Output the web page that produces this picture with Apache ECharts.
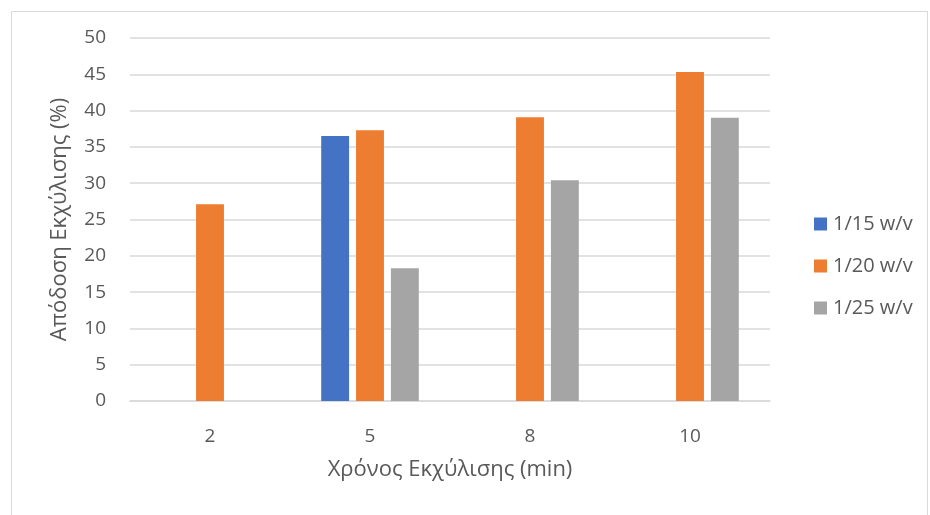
<!DOCTYPE html>
<html>
<head>
<meta charset="utf-8">
<script src="https://cdn.jsdelivr.net/npm/echarts@6/dist/echarts.min.js"></script>
<style>html,body{margin:0;padding:0;background:#fff}#c{width:930px;height:515px}</style>
</head>
<body>
<div id="c"></div>
<script>
const categories = ['2', '5', '8', '10'];
const seriesNames = ['1/15 w/v', '1/20 w/v', '1/25 w/v'];
const s1_15 = [null, 36.5, null, null];
const s1_20 = [27.1, 37.3, 39.1, 45.3];
const s1_25 = [null, 18.3, 30.4, 39.0];
const colors = ['#4472C4', '#ED7D31', '#A5A5A5'];
const font = '"Open Sans", "Noto Sans", sans-serif';

const chart = echarts.init(document.getElementById('c'));
const dataSets = [s1_15, s1_20, s1_25];
chart.setOption({
  animation: false,
  graphic: [{
    type: 'rect', left: 9, top: 9, shape: {width: 916, height: 520},
    style: {fill: 'none', stroke: '#d9d9d9', lineWidth: 1}
  }],
  grid: {left: 130, right: 160, top: 38, bottom: 114},
  legend: {
    orient: 'vertical', left: 809, top: 209, itemGap: 22,
    itemWidth: 13, itemHeight: 13, icon: 'rect',
    textStyle: {fontFamily: font, fontSize: 20, color: '#595959', padding: [0, 0, 0, 1]},
    data: seriesNames
  },
  xAxis: {
    type: 'category', data: categories,
    name: 'Χρόνος Εκχύλισης (min)', nameLocation: 'middle', nameGap: 58,
    nameTextStyle: {fontFamily: font, fontSize: 22, color: '#595959'},
    axisLine: {lineStyle: {color: '#d9d9d9', width: 1.5}},
    axisTick: {show: false},
    axisLabel: {fontFamily: font, fontSize: 19, color: '#595959', margin: 26}
  },
  yAxis: {
    type: 'value', min: 0, max: 50, interval: 5,
    name: 'Απόδοση Εκχύλισης (%)', nameLocation: 'middle', nameGap: 59,
    nameTextStyle: {fontFamily: font, fontSize: 22, color: '#595959'},
    axisLine: {show: false}, axisTick: {show: false},
    axisLabel: {fontFamily: font, fontSize: 19, color: '#595959', margin: 24},
    splitLine: {lineStyle: {color: '#d9d9d9', width: 1.5}}
  },
  series: seriesNames.map((n, i) => ({
    name: n, type: 'bar', data: dataSets[i],
    barGap: '25%', barCategoryGap: '39%',
    itemStyle: {color: colors[i]}
  }))
});
</script>
</body>
</html>
